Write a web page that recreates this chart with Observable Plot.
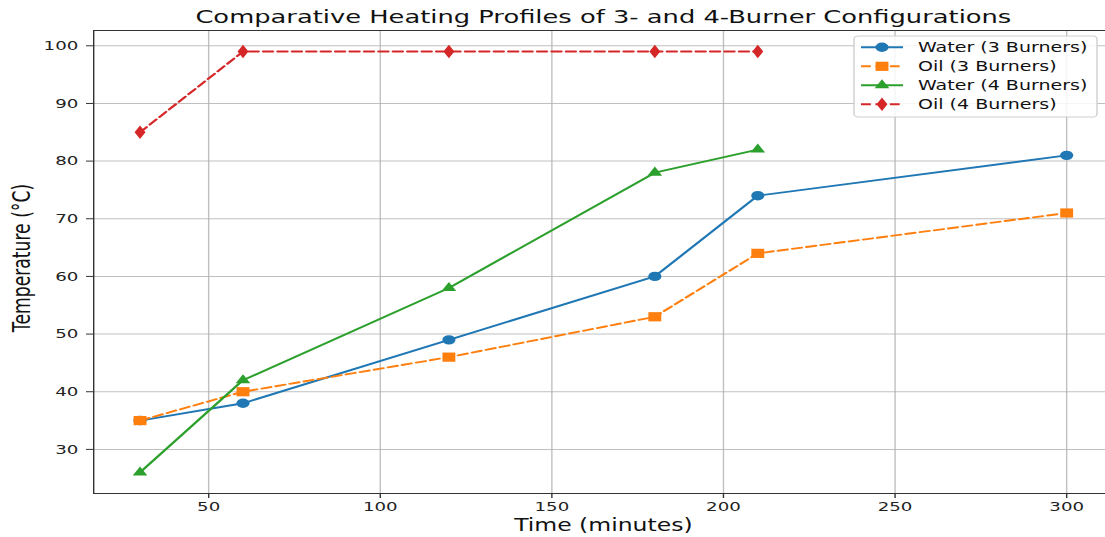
<!DOCTYPE html>
<html>
<head>
<meta charset="utf-8">
<script src="https://cdn.jsdelivr.net/npm/d3@7"></script>
<script src="https://cdn.jsdelivr.net/npm/@observablehq/plot@0.6"></script>
<style>
  html, body { margin: 0; padding: 0; background: #fff; }
  #chart { width: 1105px; height: 537px; overflow: hidden; }
</style>
</head>
<body>
<div id="chart"></div>
<script>
// ---- data ----
const titleText = "Comparative Heating Profiles of 3- and 4-Burner Configurations";
const xLabel = "Time (minutes)";
const yLabel = "Temperature (°C)";
const seriesNames = ["Water (3 Burners)", "Oil (3 Burners)", "Water (4 Burners)", "Oil (4 Burners)"];
const seriesColors = ["#1f77b4", "#ff7f0e", "#2ca02c", "#d62728"];
const seriesSymbols = ["circle", "square", "triangle", "diamond"];
const seriesDashed = [false, true, false, true];
const times3 = [30, 60, 120, 180, 210, 300];
const water3 = [35, 38, 49, 60, 74, 81];
const oil3 = [35, 40, 46, 53, 64, 71];
const times4 = [30, 60, 120, 180, 210];
const water4 = [26, 42, 58, 78, 82];
const oil4 = [85, 99, 99, 99, 99];
const xTicks = [50, 100, 150, 200, 250, 300];
const yTicks = [30, 40, 50, 60, 70, 80, 90, 100];

// ---- layout (reference is horizontally stretched) ----
const SX = 1.4;
const W = 1105 / SX, H = 537;
const xDomain = [16.5, 313.5];
const yDomain = [22.35, 102.65];
const xRange = [93 / SX, 1112.3 / SX];
const ML = xRange[0];
const MT = 30, MB = 44;

const seriesData = [
  times3.map((t, i) => ({time: t, temp: water3[i], series: seriesNames[0]})),
  times3.map((t, i) => ({time: t, temp: oil3[i], series: seriesNames[1]})),
  times4.map((t, i) => ({time: t, temp: water4[i], series: seriesNames[2]})),
  times4.map((t, i) => ({time: t, temp: oil4[i], series: seriesNames[3]}))
];
const symbolR = {circle: 4.7, square: 5.2, triangle: 3.9, diamond: 4.1};
const dash = "7,3.3";

const axesCenter = (xRange[0] + xRange[1]) / 2;
const frameCenter = (ML + W) / 2;

const marks = [
  Plot.gridX(xTicks, {stroke: "#b0b0b0", strokeOpacity: 0.8, strokeWidth: 1}),
  Plot.gridY(yTicks, {stroke: "#b0b0b0", strokeOpacity: 0.8, strokeWidth: 1}),
  Plot.ruleX([xDomain[0]], {stroke: "#333", strokeWidth: 1}),
  Plot.ruleY(yDomain, {stroke: "#333", strokeWidth: 1}),
  Plot.axisX(xTicks, {tickSize: 5, tickPadding: 3, fontSize: 13, label: null, stroke: "#333", fill: "#222"}),
  Plot.axisY(yTicks, {tickSize: 5, tickPadding: 6, fontSize: 13, label: null, stroke: "#333", fill: "#222"})
];
seriesData.forEach((d, i) => {
  marks.push(Plot.line(d, {x: "time", y: "temp", stroke: seriesColors[i], strokeWidth: 1.9,
    strokeDasharray: seriesDashed[i] ? dash : null}));
});
seriesData.forEach((d, i) => {
  marks.push(Plot.dot(d, {x: "time", y: "temp", symbol: seriesSymbols[i], fill: seriesColors[i],
    stroke: null, r: symbolR[seriesSymbols[i]]}));
});
marks.push(
  Plot.text([titleText], {text: d => d, frameAnchor: "top", dy: -13, dx: axesCenter - frameCenter,
    fontSize: 18.4, fill: "#111", lineAnchor: "middle", textAnchor: "middle"}),
  Plot.text([xLabel], {text: d => d, frameAnchor: "bottom", dy: 32, dx: axesCenter - frameCenter,
    fontSize: 16.8, fill: "#111", lineAnchor: "middle", textAnchor: "middle"}),
  Plot.text([yLabel], {text: d => d, frameAnchor: "left", dx: 22 / SX - ML, dy: -4, rotate: -90,
    fontSize: 17.2, fill: "#111", lineAnchor: "middle", textAnchor: "middle"})
);

const svg = Plot.plot({
  width: W, height: H,
  marginLeft: ML, marginRight: 0, marginTop: MT, marginBottom: MB,
  x: {domain: xDomain, range: xRange},
  y: {domain: yDomain},
  style: {fontFamily: "DejaVu Sans", background: "#fff", color: "#222"},
  marks
});

// ---- legend ----
const lg = d3.select(svg).append("g").attr("font-family", "DejaVu Sans").attr("text-anchor", "start");
lg.append("rect")
  .attr("x", 854 / SX).attr("y", 36).attr("width", (1097 - 854) / SX).attr("height", 81)
  .attr("rx", 3).attr("fill", "#fff").attr("fill-opacity", 0.85)
  .attr("stroke", "#cfcfcf").attr("stroke-width", 1);
const symbolTypes = {circle: d3.symbolCircle, square: d3.symbolSquare, triangle: d3.symbolTriangle, diamond: d3.symbolDiamond};
seriesNames.forEach((name, i) => {
  const y = 47.3 + i * 19;
  lg.append("line")
    .attr("x1", 861 / SX).attr("x2", 903 / SX).attr("y1", y).attr("y2", y)
    .attr("stroke", seriesColors[i]).attr("stroke-width", 1.9)
    .attr("stroke-dasharray", seriesDashed[i] ? dash : null);
  const s = seriesSymbols[i];
  lg.append("path")
    .attr("d", d3.symbol(symbolTypes[s], Math.PI * symbolR[s] ** 2)())
    .attr("transform", `translate(${882 / SX},${y})`)
    .attr("fill", seriesColors[i]);
  lg.append("text")
    .attr("x", 918 / SX).attr("y", y).attr("dy", "0.35em")
    .attr("text-anchor", "start")
    .attr("font-size", 13.6).attr("fill", "#111").text(name);
});

svg.setAttribute("preserveAspectRatio", "none");
svg.setAttribute("width", 1105);
svg.setAttribute("height", 537);
svg.style.width = "1105px";
svg.style.height = "537px";
svg.style.maxWidth = "none";
document.getElementById("chart").appendChild(svg);
</script>
</body>
</html>
